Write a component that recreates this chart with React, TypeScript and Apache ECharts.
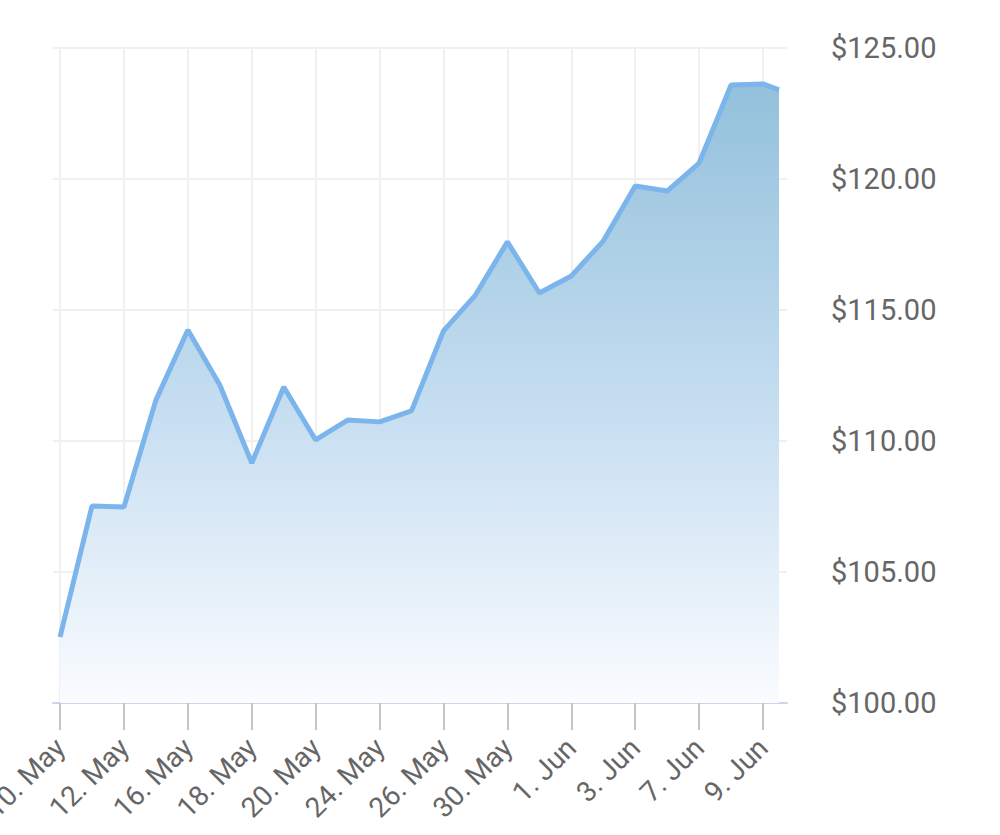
import React, { useEffect, useRef } from "react";
import * as echarts from "echarts";

const prices: number[] = [
  102.52, 107.52, 107.48, 111.56, 114.24, 112.14, 109.16, 112.06, 110.04, 110.8,
  110.73, 111.15, 114.2, 115.57, 117.6, 115.65, 116.3, 117.63, 119.73, 119.54,
  120.61, 123.59, 123.63, 123.4,
];
const positions: number[] = [
  0, 1, 2, 3, 4, 5, 6, 7, 8, 9, 10, 11, 12, 13, 14, 15, 16, 17, 18, 19, 20, 21, 22, 22.5,
];
const tickPositions: number[] = [0, 2, 4, 6, 8, 10, 12, 14, 16, 18, 20, 22];
const tickLabels: string[] = [
  "10. May", "12. May", "16. May", "18. May", "20. May", "24. May",
  "26. May", "30. May", "1. Jun", "3. Jun", "7. Jun", "9. Jun",
];
const yTicks = { min: 100, max: 125, interval: 5 };

export default function App() {
  const ref = useRef<HTMLDivElement>(null);
  useEffect(() => {
    if (!ref.current) return;
    const chart = echarts.init(ref.current, undefined, { renderer: "svg" });
    const data = positions.map((x, i) => [x, prices[i]]);
    chart.setOption({
      animation: false,
      backgroundColor: "#ffffff",
      grid: {
        left: 53,
        right: 213,
        top: 48,
        bottom: 132,
        containLabel: false,
        outerBoundsMode: "none",
      },
      xAxis: {
        type: "value",
        min: -0.22,
        max: 22.75,
        axisLine: { show: true, onZero: false, lineStyle: { color: "#ccd6eb", width: 2 } },
        axisTick: {
          show: true,
          customValues: tickPositions,
          length: 27,
          lineStyle: { color: "#c4c4c4", width: 2 },
        },
        axisLabel: {
          customValues: tickPositions,
          rotate: 45,
          margin: 40,
          fontFamily: "Roboto",
          fontSize: 28,
          color: "#666666",
          hideOverlap: false,
          formatter: (v: number) => {
            const idx = tickPositions.indexOf(Math.round(v));
            return idx >= 0 ? tickLabels[idx] : "";
          },
        },
        splitLine: { show: true, lineStyle: { color: "#f0f0f0", width: 2 } },
      },
      yAxis: {
        type: "value",
        position: "right",
        min: yTicks.min,
        max: yTicks.max,
        interval: yTicks.interval,
        axisLine: { show: false },
        axisTick: { show: false },
        axisLabel: {
          margin: 44,
          fontFamily: "Roboto",
          fontSize: 29,
          color: "#666666",
          formatter: (v: number) => "$" + v.toFixed(2),
        },
        splitLine: { show: true, lineStyle: { color: "#f0f0f0", width: 2 } },
      },
      series: [
        {
          type: "line",
          data,
          symbol: "none",
          lineStyle: { color: "#7cb5ec", width: 5 },
          itemStyle: { color: "#7cb5ec" },
          areaStyle: {
            color: new echarts.graphic.LinearGradient(0, 0, 0, 1, [
              { offset: 0, color: "#93c1db" },
              { offset: 0.5, color: "#c3dcf0" },
              { offset: 1, color: "rgba(250,252,255,1)" },
            ]),
            opacity: 1,
          },
        },
      ],
    });
    return () => chart.dispose();
  }, []);
  return (
    <div
      ref={ref}
      style={{ position: "fixed", left: 0, top: 0, width: 1000, height: 835 }}
    />
  );
}
